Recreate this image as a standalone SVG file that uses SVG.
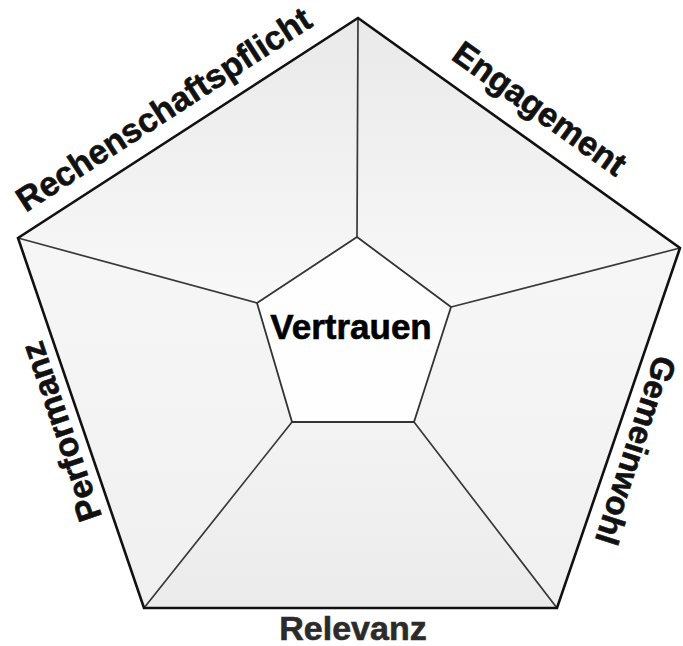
<svg xmlns="http://www.w3.org/2000/svg" width="683" height="646" viewBox="0 0 683 646">
  <style>
    .face { stroke: none; }
    .outer { fill: none; stroke: #111; stroke-width: 2.6; stroke-linejoin: miter; }
    .spoke { fill: none; stroke: #383838; stroke-width: 1.7; stroke-linecap: round; }
    .inner { fill: #fefefe; stroke: #333; stroke-width: 1.8; stroke-linejoin: round; }
    .lbl { font-family: "Liberation Sans", Arial, sans-serif; font-weight: bold; font-size: 34px; fill: #111; stroke: #111; stroke-width: 0.6; text-anchor: middle; }
    .center { font-size: 35px; fill: #000; stroke: #000; }
    .rel { fill: #2b2b2b; stroke: #2b2b2b; }
    .gw { font-size: 33px; }
  </style>
  <defs>
    <linearGradient id="gTop" x1="0" y1="0" x2="0" y2="1">
      <stop offset="0" stop-color="#e9e9e9"/>
      <stop offset="1" stop-color="#f8f8f8"/>
    </linearGradient>
    <linearGradient id="gSide" x1="0" y1="0" x2="0" y2="1">
      <stop offset="0" stop-color="#f6f6f6"/>
      <stop offset="1" stop-color="#f0f0f0"/>
    </linearGradient>
    <linearGradient id="gBottom" x1="0" y1="0" x2="0" y2="1">
      <stop offset="0" stop-color="#f3f3f3"/>
      <stop offset="1" stop-color="#ebebeb"/>
    </linearGradient>
  </defs>
  <rect width="683" height="646" fill="#ffffff"/>

  <g id="rechenschaftspflicht">
    <polygon class="face" points="18,238 358,18 357,237 257,303" fill="url(#gTop)"/>
    <text class="lbl" transform="translate(170,119) rotate(-33)">Rechenschaftspflicht</text>
  </g>
  <g id="engagement">
    <polygon class="face" points="358,18 680,248 451,307 357,237" fill="url(#gTop)"/>
    <text class="lbl" transform="translate(533,118) rotate(35.6)">Engagement</text>
  </g>
  <g id="gemeinwohl">
    <polygon class="face" points="680,248 557,608 414,422 451,307" fill="url(#gSide)"/>
    <text class="lbl gw" transform="translate(625,447) rotate(108)">Gemeinwohl</text>
  </g>
  <g id="relevanz">
    <polygon class="face" points="557,608 144,608 292,422 414,422" fill="url(#gBottom)"/>
    <text class="lbl rel" x="353" y="640">Relevanz</text>
  </g>
  <g id="performanz">
    <polygon class="face" points="144,608 18,238 257,303 292,422" fill="url(#gSide)"/>
    <text class="lbl" transform="translate(72,428) rotate(-108.8)">Performanz</text>
  </g>

  <g id="connectors">
    <line class="spoke" x1="358" y1="18" x2="357" y2="237"/>
    <line class="spoke" x1="680" y1="248" x2="451" y2="307"/>
    <line class="spoke" x1="557" y1="608" x2="414" y2="422"/>
    <line class="spoke" x1="144" y1="608" x2="292" y2="422"/>
    <line class="spoke" x1="18" y1="238" x2="257" y2="303"/>
    <polygon class="outer" points="358,18 680,248 557,608 144,608 18,238"/>
  </g>

  <g id="vertrauen">
    <polygon class="inner" points="357,237 451,307 414,422 292,422 257,303"/>
    <text class="lbl center" x="351" y="339">Vertrauen</text>
  </g>
</svg>
